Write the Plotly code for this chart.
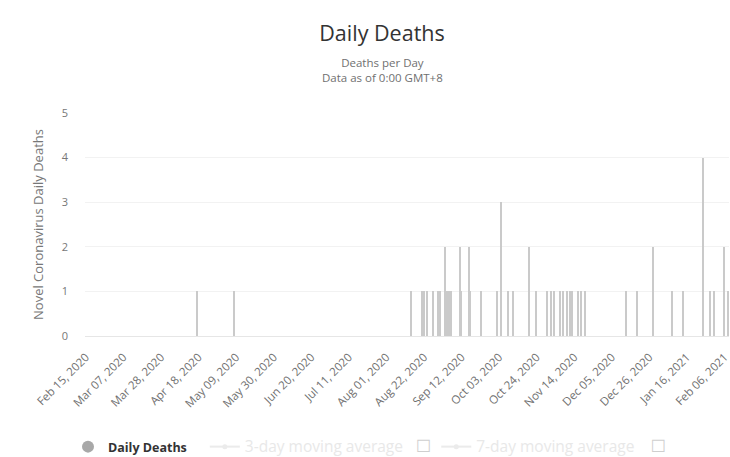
import pandas as pd
import plotly.graph_objects as go

# Days with at least one death (all other days in the range are 0)
death_dates = [
    "2020-04-17", "2020-05-08", "2020-08-15", "2020-08-21", "2020-08-22",
    "2020-08-24", "2020-08-27", "2020-08-30", "2020-08-31", "2020-09-03",
    "2020-09-04", "2020-09-05", "2020-09-06", "2020-09-11", "2020-09-12",
    "2020-09-16", "2020-09-17", "2020-09-23", "2020-10-02", "2020-10-04",
    "2020-10-08", "2020-10-11", "2020-10-20", "2020-10-24", "2020-10-30",
    "2020-11-01", "2020-11-03", "2020-11-06", "2020-11-08", "2020-11-10",
    "2020-11-12", "2020-11-13", "2020-11-16", "2020-11-18", "2020-11-20",
    "2020-12-13", "2020-12-19", "2020-12-28", "2021-01-08", "2021-01-14",
    "2021-01-25", "2021-01-29", "2021-01-31", "2021-02-06", "2021-02-08",
]
death_values = [
    1, 1, 1, 1, 1,
    1, 1, 1, 1, 2,
    1, 1, 1, 2, 1,
    2, 1, 1, 1, 3,
    1, 1, 2, 1, 1,
    1, 1, 1, 1, 1,
    1, 1, 1, 1, 1,
    1, 1, 2, 1, 1,
    4, 1, 1, 2, 1,
]
start_date = "2020-02-15"
end_date = "2021-02-08"

days = pd.date_range(start_date, end_date, freq="D")
series = pd.Series(death_values, index=pd.to_datetime(death_dates)).reindex(days, fill_value=0)
ma3 = series.rolling(3).mean()
ma7 = series.rolling(7).mean()

DAY = 86400000
NB = "&nbsp;"
BOX = "<span style='color:#a0a0a0;font-size:17px'>☐</span>"
fig = go.Figure()
fig.add_trace(go.Bar(
    x=series.index, y=series.values, width=0.8 * DAY,
    marker=dict(color="#cacaca", line=dict(width=0)),
    name="Daily Deaths", showlegend=False,
))
fig.add_trace(go.Scatter(
    x=[None], y=[None], mode="markers",
    marker=dict(color="#a8a8a8", size=12, symbol="circle"),
    name="<b>Daily Deaths</b>" + NB * 4,
))
fig.add_trace(go.Scatter(
    x=series.index, y=ma3, mode="lines+markers", visible="legendonly",
    line=dict(color="#d8d8d8", width=2), marker=dict(color="#d8d8d8", size=5),
    name="<span style='color:#d2d2d2;font-size:15.5px'>3-day moving average</span>" + NB * 4 + BOX,
))
fig.add_trace(go.Scatter(
    x=series.index, y=ma7, mode="lines+markers", visible="legendonly",
    line=dict(color="#d8d8d8", width=2), marker=dict(color="#d8d8d8", size=5),
    name="<span style='color:#d2d2d2;font-size:15.5px'>7-day moving average</span>" + NB * 5 + BOX,
))

PLOT_L, PLOT_R, PLOT_TOP, PLOT_BOTTOM = 85, 729, 113, 336
def paper_y(px):
    return (PLOT_BOTTOM - px) / (PLOT_BOTTOM - PLOT_TOP)
def paper_x(px):
    return (px - PLOT_L) / (PLOT_R - PLOT_L)

fig.add_annotation(x=paper_x(382), y=paper_y(69.5), xref="paper", yref="paper",
                   text="Deaths per Day<br>Data as of 0:00 GMT+8",
                   showarrow=False, font=dict(size=11.5, color="#707070"), yanchor="middle")

fig.update_layout(
    width=730, height=457,
    margin=dict(l=PLOT_L, r=730 - PLOT_R, t=PLOT_TOP, b=457 - PLOT_BOTTOM, autoexpand=False),
    paper_bgcolor="white", plot_bgcolor="white",
    font=dict(family="Open Sans, DejaVu Sans, sans-serif", color="#666666"),
    title=dict(
        text="Daily Deaths", xref="paper",
        x=paper_x(382), xanchor="center", y=1 - 33 / 457, yanchor="middle",
        font=dict(size=21.5, color="#333333"),
    ),
    bargap=0,
    xaxis=dict(
        type="date", automargin=False,
        range=[pd.Timestamp(start_date) - pd.Timedelta(hours=12), pd.Timestamp(end_date) + pd.Timedelta(hours=12)],
        tick0=start_date, dtick=21 * DAY, tickformat="%b %d, %Y",
        tickangle=-45, tickfont=dict(size=11.5, color="#707070"), ticklabelstandoff=9,
        ticklabeloverflow="allow",
        showgrid=False, showline=True, linecolor="#e6e6e6", ticks="",
    ),
    yaxis=dict(
        automargin=False,
        range=[0, 5], dtick=1, tickfont=dict(size=11, color="#777777"), ticklabelstandoff=16,
        gridcolor="#f2f2f2", zeroline=False, showline=False,
        title=dict(text="Novel Coronavirus Daily Deaths", font=dict(size=13, color="#777777")),
    ),
    legend=dict(
        orientation="h", x=paper_x(68), xanchor="left", y=paper_y(447), yanchor="middle",
        font=dict(size=12.5, color="#333333"), itemwidth=30,
        itemclick=False, tracegroupgap=0,
    ),
)

fig.write_html(
    "out.html",
    config={"displayModeBar": False},
    post_script="document.body.style.margin='0';document.body.style.overflow='hidden';",
)
